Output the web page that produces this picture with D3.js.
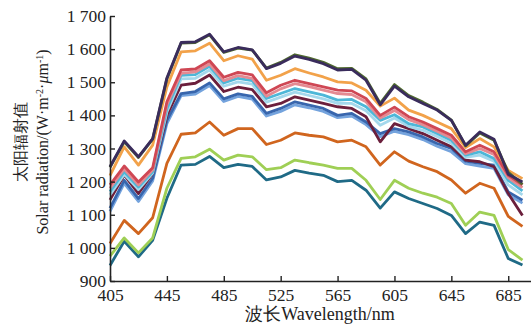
<!DOCTYPE html>
<html>
<head>
<meta charset="utf-8">
<script src="https://cdn.jsdelivr.net/npm/d3@7"></script>
<style>
  body { margin: 0; background: #fff; }
  svg text { font-family: "Liberation Serif", "Times New Roman", serif; }
</style>
</head>
<body>
<div id="chart"></div>
<script>
// wavelengths (nm)
const wavelengths = [405, 415, 425, 435, 445, 455, 465, 475, 485, 495, 505, 515, 525, 535, 545,
  555, 565, 575, 585, 595, 605, 615, 625, 635, 645, 655, 665, 675, 685, 695];

const yTicks = [900, 1000, 1100, 1200, 1300, 1400, 1500, 1600, 1700];
const yTickLabels = ['900', '1 000', '1 100', '1 200', '1 300', '1 400', '1 500', '1 600', '1 700'];
const xTicks = [405, 445, 485, 525, 565, 605, 645, 685];

// series, bottom to top drawing order
const tealVals = [947, 1020, 973, 1023, 1150, 1250, 1252, 1276, 1242, 1252, 1246, 1205, 1214, 1234, 1226,
  1219, 1200, 1204, 1174, 1120, 1169, 1149, 1134, 1119, 1098, 1043, 1078, 1068, 968, 948];
const lightGreenVals = [975, 1030, 985, 1030, 1180, 1270, 1275, 1298, 1265, 1280, 1275, 1236, 1242, 1265, 1257,
  1250, 1240, 1240, 1204, 1146, 1204, 1180, 1165, 1153, 1134, 1068, 1108, 1098, 995, 963];
const brownVals = [1013, 1083, 1043, 1091, 1255, 1343, 1347, 1380, 1340, 1360, 1360, 1312, 1325, 1347, 1340,
  1335, 1320, 1325, 1305, 1250, 1290, 1262, 1245, 1230, 1205, 1165, 1195, 1180, 1095, 1065];
const lightBlueVals = [1110, 1195, 1140, 1202, 1375, 1460, 1464, 1490, 1442, 1457, 1449, 1398, 1412, 1432, 1423,
  1412, 1393, 1398, 1372, 1336, 1352, 1342, 1327, 1307, 1290, 1254, 1247, 1240, 1160, 1135];
const blueVals = [1120, 1204, 1149, 1210, 1385, 1466, 1472, 1498, 1450, 1465, 1457, 1406, 1421, 1441, 1431,
  1421, 1400, 1406, 1380, 1345, 1360, 1350, 1335, 1315, 1300, 1262, 1255, 1250, 1169, 1144];
const maroonVals = [1145, 1220, 1164, 1225, 1400, 1491, 1497, 1522, 1472, 1485, 1478, 1426, 1436, 1456, 1446,
  1436, 1426, 1421, 1396, 1320, 1375, 1360, 1345, 1325, 1305, 1265, 1260, 1245, 1164, 1098];
const paleCyanVals = [1160, 1222, 1176, 1226, 1410, 1510, 1512, 1537, 1488, 1501, 1494, 1440, 1455, 1470, 1460,
  1450, 1436, 1436, 1414, 1370, 1392, 1367, 1355, 1336, 1316, 1273, 1280, 1262, 1190, 1160];
const cyanVals = [1170, 1230, 1184, 1230, 1420, 1521, 1523, 1548, 1498, 1512, 1505, 1451, 1466, 1481, 1471,
  1461, 1446, 1448, 1426, 1385, 1402, 1375, 1365, 1345, 1325, 1280, 1290, 1270, 1204, 1172];
const pinkVals = [1180, 1238, 1190, 1236, 1432, 1527, 1531, 1555, 1505, 1520, 1512, 1458, 1480, 1496, 1487,
  1476, 1466, 1463, 1441, 1392, 1415, 1387, 1372, 1352, 1332, 1284, 1300, 1282, 1212, 1182];
const redVals = [1190, 1247, 1199, 1242, 1441, 1537, 1540, 1565, 1515, 1530, 1522, 1468, 1491, 1506, 1496,
  1486, 1476, 1474, 1451, 1400, 1425, 1396, 1380, 1360, 1340, 1290, 1310, 1290, 1219, 1190];
const orangeVals = [1218, 1305, 1250, 1310, 1486, 1592, 1595, 1618, 1565, 1580, 1570, 1506, 1521, 1541, 1528,
  1516, 1501, 1498, 1476, 1428, 1452, 1416, 1400, 1380, 1360, 1303, 1330, 1305, 1234, 1209];
const greenVals = [1243, 1320, 1273, 1328, 1510, 1618, 1620, 1643, 1590, 1603, 1597, 1543, 1560, 1583, 1573,
  1560, 1541, 1542, 1510, 1436, 1493, 1460, 1440, 1418, 1386, 1308, 1347, 1325, 1228, 1192];
const purpleVals = [1245, 1323, 1275, 1330, 1513, 1620, 1622, 1645, 1592, 1605, 1598, 1541, 1557, 1579, 1569,
  1556, 1537, 1539, 1506, 1432, 1488, 1456, 1436, 1416, 1385, 1310, 1350, 1328, 1222, 1199];

const series = [
  {values: tealVals, color: '#1f6a86'},
  {values: lightGreenVals, color: '#9fcf55'},
  {values: brownVals, color: '#d0651e'},
  {values: lightBlueVals, color: '#74a3dd'},
  {values: blueVals, color: '#3866ad'},
  {values: maroonVals, color: '#6b1f3c'},
  {values: paleCyanVals, color: '#a4d8ec'},
  {values: cyanVals, color: '#4db7d8'},
  {values: pinkVals, color: '#e48a92'},
  {values: redVals, color: '#cf4754'},
  {values: orangeVals, color: '#f2a24a'},
  {values: greenVals, color: '#4f6a2e'},
  {values: purpleVals, color: '#3a2c5c'}
];

const width = 531, height = 326;
const margin = {left: 110, right: 531, top: 16, bottom: 281};

const svg = d3.select('#chart').append('svg')
  .attr('width', width)
  .attr('height', height);

const x = d3.scaleLinear().domain([405, 701]).range([margin.left, margin.right]);
const y = d3.scaleLinear().domain([900, 1700]).range([margin.bottom, margin.top]);

const line = d3.line()
  .x((d, i) => x(wavelengths[i]))
  .y(d => y(d));

// data lines
svg.append('g')
  .selectAll('path')
  .data(series)
  .enter().append('path')
  .attr('d', d => line(d.values))
  .attr('fill', 'none')
  .attr('stroke', d => d.color)
  .attr('stroke-width', 2.8)
  .attr('stroke-linejoin', 'round');

// y axis
const yAxis = svg.append('g')
  .attr('transform', 'translate(' + margin.left + ',0)')
  .call(d3.axisLeft(y)
    .tickValues(yTicks)
    .tickFormat((d, i) => yTickLabels[i])
    .tickSizeInner(-5)
    .tickSizeOuter(0)
    .tickPadding(4));

// x axis
const xAxis = svg.append('g')
  .attr('transform', 'translate(0,' + margin.bottom + ')')
  .call(d3.axisBottom(x)
    .tickValues(xTicks)
    .tickFormat(d3.format('d'))
    .tickSizeInner(-5)
    .tickSizeOuter(0)
    .tickPadding(8));

[yAxis, xAxis].forEach(ax => {
  ax.select('.domain').attr('stroke', '#222').attr('stroke-width', 1.6);
  ax.selectAll('.tick line').attr('stroke', '#222').attr('stroke-width', 1.4);
  ax.selectAll('.tick text')
    .attr('fill', '#222')
    .attr('font-size', 17.5)
    .attr('font-family', '"Liberation Serif", serif');
});

// axis titles
svg.append('text')
  .attr('x', 320)
  .attr('y', 320)
  .attr('text-anchor', 'middle')
  .attr('font-size', 18)
  .attr('fill', '#222')
  .text('波长Wavelength/nm');

const yTitle = svg.append('text')
  .attr('transform', 'translate(0,142) rotate(-90)')
  .attr('text-anchor', 'middle')
  .attr('font-size', 16)
  .attr('fill', '#222');

yTitle.append('tspan')
  .attr('x', 0)
  .attr('y', 26)
  .text('太阳辐射值');

const en = yTitle.append('tspan')
  .attr('x', 0)
  .attr('y', 48);
en.append('tspan').text('Solar radiation/(W·m');
en.append('tspan').attr('baseline-shift', 'super').attr('font-size', 10).text('-2');
en.append('tspan').text('·');
en.append('tspan').attr('font-style', 'italic').text('μ');
en.append('tspan').text('m');
en.append('tspan').attr('baseline-shift', 'super').attr('font-size', 10).text('-1');
en.append('tspan').text(')');
</script>
</body>
</html>
